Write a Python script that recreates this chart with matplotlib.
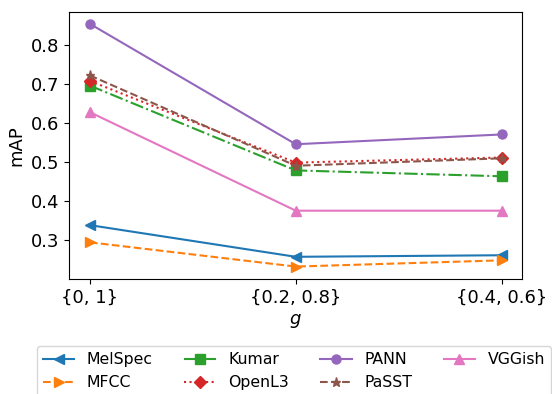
import numpy as np
import matplotlib
matplotlib.use("Agg")
import matplotlib.pyplot as plt

# mixing ranges on the x axis
g_labels = ["{0, 1}", "{0.2, 0.8}", "{0.4, 0.6}"]

# mAP per model
melspec = [0.339, 0.258, 0.262]
mfcc    = [0.295, 0.233, 0.249]
kumar   = [0.696, 0.479, 0.464]
openl3  = [0.708, 0.499, 0.512]
pann    = [0.854, 0.546, 0.571]
passt   = [0.722, 0.491, 0.510]
vggish  = [0.628, 0.376, 0.376]

series = [
	("MelSpec", melspec, "<", "-"),
	("MFCC",    mfcc,    ">", "--"),
	("Kumar",   kumar,   "s", "-."),
	("OpenL3",  openl3,  "D", ":"),
	("PANN",    pann,    "o", "-"),
	("PaSST",   passt,   "*", "--"),
	("VGGish",  vggish,  "^", "-"),
]

plt.rcParams["font.size"] = 13

fig = plt.figure(figsize=(5.52, 3.94), dpi=100)
ax = fig.add_axes([0.1255, 0.2926, 0.8207, 0.6777])

x = np.arange(len(g_labels))
for name, vals, marker, ls in series:
	ax.plot(x, vals, marker=marker, linestyle=ls, markersize=6.5, label=name)

ax.set_xticks(x)
ax.set_xticklabels(g_labels)
ax.set_xlabel("$g$")
ax.set_ylabel("mAP")

fig.legend(loc="upper left", bbox_to_anchor=(36.7 / 552, 1 - 346 / 394),
           ncol=4, fontsize=11.3, columnspacing=2.0, borderaxespad=0,
           handlelength=2.0)

fig.savefig("out.png", dpi=100)
